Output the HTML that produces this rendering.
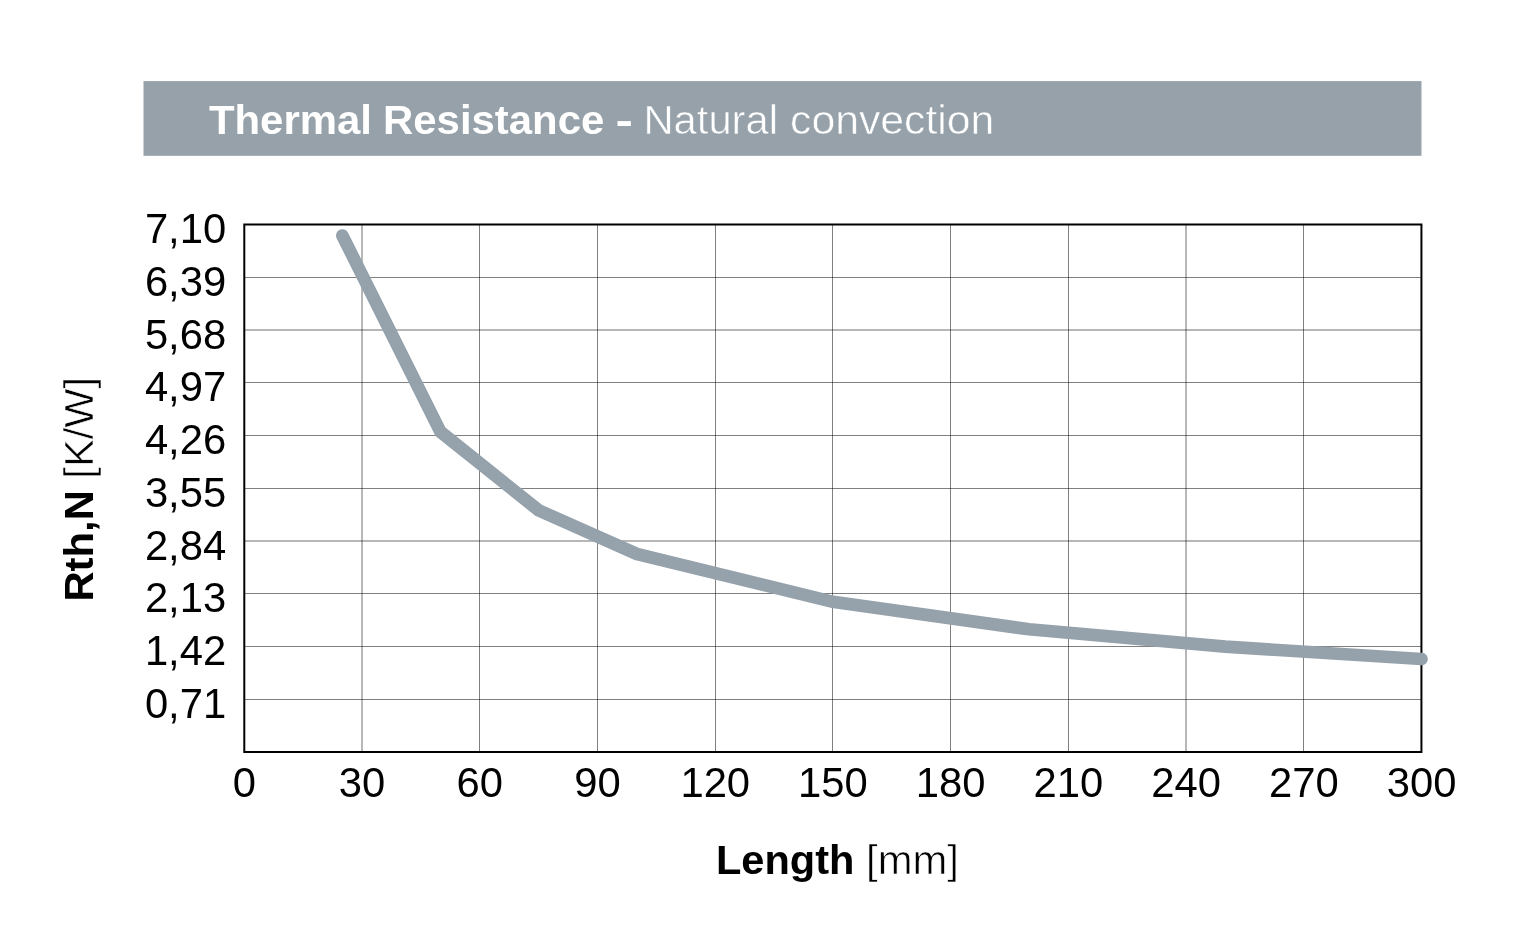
<!DOCTYPE html>
<html lang="en">
<head>
<meta charset="utf-8">
<title>Thermal Resistance - Natural convection</title>
<style>
html,body{margin:0;padding:0;background:#fff;}
body{width:1526px;height:947px;overflow:hidden;position:relative;font-family:"Liberation Sans",sans-serif;}
svg{position:absolute;left:0;top:0;display:block;}
text{font-family:"Liberation Sans",sans-serif;fill:#000;}
.grid rect{fill:#000;}
.tick text{font-size:42.3px;}
text.tt{fill:#fff;}
</style>
</head>
<body>
<svg width="1526" height="947" viewBox="0 0 1526 947">
<rect x="0" y="0" width="1526" height="947" fill="#ffffff"/>
<rect x="143.5" y="81.1" width="1278" height="74.7" fill="#96a1aa"/>
<g class="title">
<text class="tt" transform="translate(208.89 133.80) scale(1.0101 1)" font-size="41.5" font-weight="bold">Thermal</text>
<text class="tt" transform="translate(383.07 133.80) scale(1.0093 1)" font-size="41.5" font-weight="bold">Resistance</text>
<text class="tt" transform="translate(615.58 133.80) scale(1.2642 1)" font-size="41.5" font-weight="bold">-</text>
<text class="tt" transform="translate(643.48 133.80) scale(1.0055 1)" font-size="41.5" stroke="#96a1aa" stroke-width="0.55">Natural</text>
<text class="tt" transform="translate(790.05 133.80) scale(1.0299 1)" font-size="41.5" stroke="#96a1aa" stroke-width="0.55">convection</text>
</g>
<g class="grid">
<rect x="361.72" y="224.50" width="0.56" height="527.50"/>
<rect x="479.25" y="224.50" width="0.5" height="527.50"/>
<rect x="597.25" y="224.50" width="0.5" height="527.50"/>
<rect x="715.25" y="224.50" width="0.5" height="527.50"/>
<rect x="832.25" y="224.50" width="0.5" height="527.50"/>
<rect x="950.25" y="224.50" width="0.5" height="527.50"/>
<rect x="1068.25" y="224.50" width="0.5" height="527.50"/>
<rect x="1185.72" y="224.50" width="0.56" height="527.50"/>
<rect x="1303.25" y="224.50" width="0.5" height="527.50"/>
<rect x="244.29" y="277.25" width="1177.14" height="0.5"/>
<rect x="244.29" y="329.72" width="1177.14" height="0.56"/>
<rect x="244.29" y="382.25" width="1177.14" height="0.5"/>
<rect x="244.29" y="435.25" width="1177.14" height="0.5"/>
<rect x="244.29" y="488.25" width="1177.14" height="0.5"/>
<rect x="244.29" y="540.72" width="1177.14" height="0.56"/>
<rect x="244.29" y="593.25" width="1177.14" height="0.5"/>
<rect x="244.29" y="646.25" width="1177.14" height="0.5"/>
<rect x="244.29" y="699.25" width="1177.14" height="0.5"/>
</g>
<rect x="244.29" y="224.5" width="1177.14" height="527.50" fill="none" stroke="#000" stroke-width="2"/>
<polyline points="342.38,235.55 440.48,431.80 538.58,510.30 636.67,553.90 832.86,601.80 1029.05,629.30 1225.24,646.70 1421.43,659.00" fill="none" stroke="#95a1ab" stroke-width="12.7" stroke-linecap="round" stroke-linejoin="miter"/>
<g class="tick">
<text transform="translate(226.2 243.20) scale(0.988 1)" text-anchor="end">7,10</text>
<text transform="translate(226.2 295.95) scale(0.988 1)" text-anchor="end">6,39</text>
<text transform="translate(226.2 348.70) scale(0.988 1)" text-anchor="end">5,68</text>
<text transform="translate(226.2 401.45) scale(0.988 1)" text-anchor="end">4,97</text>
<text transform="translate(226.2 454.20) scale(0.988 1)" text-anchor="end">4,26</text>
<text transform="translate(226.2 506.95) scale(0.988 1)" text-anchor="end">3,55</text>
<text transform="translate(226.2 559.70) scale(0.988 1)" text-anchor="end">2,84</text>
<text transform="translate(226.2 612.45) scale(0.988 1)" text-anchor="end">2,13</text>
<text transform="translate(226.2 665.20) scale(0.988 1)" text-anchor="end">1,42</text>
<text transform="translate(226.2 717.95) scale(0.988 1)" text-anchor="end">0,71</text>
<text transform="translate(244.39 796.9) scale(0.988 1)" text-anchor="middle">0</text>
<text transform="translate(362.10 796.9) scale(0.988 1)" text-anchor="middle">30</text>
<text transform="translate(479.82 796.9) scale(0.988 1)" text-anchor="middle">60</text>
<text transform="translate(597.53 796.9) scale(0.988 1)" text-anchor="middle">90</text>
<text transform="translate(715.25 796.9) scale(0.988 1)" text-anchor="middle">120</text>
<text transform="translate(832.96 796.9) scale(0.988 1)" text-anchor="middle">150</text>
<text transform="translate(950.67 796.9) scale(0.988 1)" text-anchor="middle">180</text>
<text transform="translate(1068.39 796.9) scale(0.988 1)" text-anchor="middle">210</text>
<text transform="translate(1186.10 796.9) scale(0.988 1)" text-anchor="middle">240</text>
<text transform="translate(1303.82 796.9) scale(0.988 1)" text-anchor="middle">270</text>
<text transform="translate(1421.53 796.9) scale(0.988 1)" text-anchor="middle">300</text>
</g>
<g class="axis">
<text transform="translate(715.96 873.80) scale(1.0137 1)" font-size="41" font-weight="bold">Length</text>
<text transform="translate(866.04 873.80) scale(1.0199 1)" font-size="41" stroke="#fff" stroke-width="0.6">[mm]</text>
<text transform="translate(92.60 601.55) rotate(-90) scale(1.0193 1)" font-size="41" font-weight="bold">Rth,N</text>
<text transform="translate(92.60 478.64) rotate(-90) scale(1.0148 1)" font-size="41" stroke="#fff" stroke-width="0.6">[K/W]</text>
</g>
</svg>
</body>
</html>
